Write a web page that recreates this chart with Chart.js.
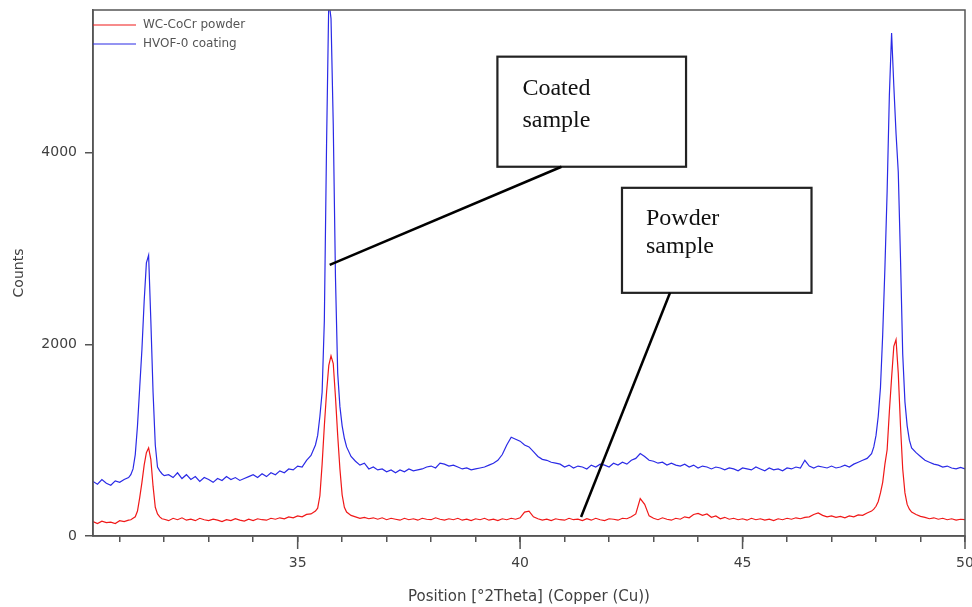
<!DOCTYPE html>
<html>
<head>
<meta charset="utf-8">
<script src="https://cdn.jsdelivr.net/npm/chart.js@4.4.1/dist/chart.umd.min.js"></script>
<style>
  html, body { margin: 0; padding: 0; background: #fff; }
  #wrap { width: 972px; height: 607px; }
</style>
</head>
<body>
<div id="wrap"><canvas id="xrd" width="972" height="607"></canvas></div>
<script>
// 2Theta positions (finer steps around the peaks)
var twoTheta = [
  30.4, 30.5, 30.6, 30.7, 30.8, 30.9, 31.0, 31.1, 31.2,
  31.25, 31.3, 31.35, 31.4, 31.45, 31.5, 31.55, 31.6, 31.65, 31.7, 31.75, 31.8, 31.85, 31.9, 31.95,
  32.0, 32.1, 32.2, 32.3, 32.4, 32.5, 32.6, 32.7, 32.8, 32.9,
  33.0, 33.1, 33.2, 33.3, 33.4, 33.5, 33.6, 33.7, 33.8, 33.9,
  34.0, 34.1, 34.2, 34.3, 34.4, 34.5, 34.6, 34.7, 34.8, 34.9,
  35.0, 35.1, 35.2, 35.3, 35.4,
  35.45, 35.5, 35.55, 35.6, 35.65, 35.7, 35.75, 35.8, 35.85, 35.9, 35.95, 36.0, 36.05,
  36.1, 36.2, 36.3, 36.4, 36.5, 36.6, 36.7, 36.8, 36.9,
  37.0, 37.1, 37.2, 37.3, 37.4, 37.5, 37.6, 37.7, 37.8, 37.9,
  38.0, 38.1, 38.2, 38.3, 38.4, 38.5, 38.6, 38.7, 38.8, 38.9,
  39.0, 39.1, 39.2, 39.3, 39.4, 39.5, 39.6, 39.7, 39.8, 39.9,
  40.0, 40.1, 40.2, 40.3, 40.4, 40.5, 40.6, 40.7, 40.8, 40.9,
  41.0, 41.1, 41.2, 41.3, 41.4, 41.5, 41.6, 41.7, 41.8, 41.9,
  42.0, 42.1, 42.2, 42.3, 42.4, 42.5, 42.6, 42.7, 42.8, 42.9,
  43.0, 43.1, 43.2, 43.3, 43.4, 43.5, 43.6, 43.7, 43.8, 43.9,
  44.0, 44.1, 44.2, 44.3, 44.4, 44.5, 44.6, 44.7, 44.8, 44.9,
  45.0, 45.1, 45.2, 45.3, 45.4, 45.5, 45.6, 45.7, 45.8, 45.9,
  46.0, 46.1, 46.2, 46.3, 46.4, 46.5, 46.6, 46.7, 46.8, 46.9,
  47.0, 47.1, 47.2, 47.3, 47.4, 47.5, 47.6, 47.7, 47.8, 47.9,
  47.95, 48.0, 48.05, 48.1, 48.15, 48.2, 48.25, 48.3, 48.35, 48.4, 48.45, 48.5, 48.55, 48.6, 48.65, 48.7, 48.75,
  48.8, 48.9, 49.0, 49.1, 49.2, 49.3, 49.4, 49.5, 49.6, 49.7, 49.8, 49.9, 50.0
];

// WC-CoCr powder (red)
var powderCounts = [
  150, 130, 155, 140, 145, 130, 160, 150, 165,
  170, 185, 200, 260, 400, 560, 740, 870, 920, 800, 520, 300, 230, 200, 180,
  175, 160, 185, 170, 190, 165, 175, 160, 185, 170,
  160, 175, 165, 150, 170, 160, 180, 165, 155, 175,
  160, 180, 170, 165, 185, 175, 190, 180, 200, 190,
  210, 200, 225, 230, 260,
  290, 420, 750, 1150, 1500, 1780, 1880, 1800, 1450, 1050, 700, 430, 300,
  250, 215, 200, 185, 195, 180, 190, 175, 190,
  170, 185, 175, 165, 185, 170, 180, 165, 185, 175,
  170, 190, 175, 165, 180, 170, 185, 165, 175, 160,
  180, 170, 185, 165, 175, 160, 180, 170, 185, 175,
  190, 250, 260, 200, 180, 165, 175, 160, 180, 170,
  165, 185, 170, 175, 160, 180, 165, 185, 170, 160,
  180, 175, 165, 185, 180, 200, 230, 390, 330, 210,
  185, 170, 190, 175, 165, 185, 175, 200, 190, 225,
  235, 215, 230, 195, 210, 180, 195, 175, 185, 170,
  180, 165, 185, 170, 180, 165, 175, 160, 180, 170,
  185, 175, 190, 180, 195, 200, 225, 240, 215, 200,
  210, 195, 205, 190, 210, 200, 220, 215, 240, 260,
  280, 310, 360, 450, 560, 750, 900, 1300, 1650, 1980, 2050, 1700, 1150, 700, 450, 330, 280,
  250, 225, 205, 195, 180, 190, 175, 185, 170, 180, 165, 175, 170
];

// HVOF-0 coating (blue)
var coatingCounts = [
  570, 540, 590, 550, 530, 575, 560, 590, 610,
  640, 700, 850, 1150, 1550, 1950, 2450, 2850, 2930, 2250, 1500, 950, 720, 680, 650,
  630, 640, 610, 660, 600, 640, 590, 620, 570, 610,
  590, 560, 600, 580, 620, 590, 610, 580, 600, 620,
  640, 610, 650, 620, 660, 640, 680, 660, 700, 690,
  730, 720, 790, 840, 950,
  1050, 1250, 1500, 2250, 4100, 5600, 5400, 4300, 2700, 1700, 1350, 1150, 1020,
  930, 830, 780, 740, 760, 700, 720, 690, 700,
  670, 690, 660, 690, 670, 700, 680, 690, 700, 720,
  730, 710, 760, 750, 730, 740, 720, 700, 710, 690,
  700, 710, 720, 740, 760, 790, 850, 950, 1030, 1010,
  990, 950, 930, 880, 830, 800, 790, 770, 760, 750,
  720, 740, 710, 730, 720, 700, 740, 720, 750, 740,
  720, 760, 740, 770, 750, 790, 810, 860, 830, 790,
  780, 760, 770, 740, 760, 740, 730, 750, 720, 740,
  710, 730, 720, 700, 720, 710, 690, 710, 700, 680,
  710, 700, 690, 720, 700, 680, 710, 690, 700, 680,
  710, 700, 720, 710, 790, 730, 710, 730, 720, 710,
  730, 710, 720, 740, 720, 750, 770, 790, 810, 860,
  930, 1050, 1250, 1550, 2100, 2800, 3600, 4600, 5250, 4700, 4200, 3800, 2900, 1900, 1400, 1150, 1000,
  920, 870, 830, 790, 770, 750, 740, 720, 730, 710, 700, 715, 700
];

var xTicks = [31, 32, 33, 34, 35, 36, 37, 38, 39, 40, 41, 42, 43, 44, 45, 46, 47, 48, 49, 50];
var yTicks = [0, 2000, 4000];

function toPoints(vals) {
    return twoTheta.map(function (x, i) { return { x: x, y: vals[i] } })
}

var axisColor = '#555'
var textColor = '#404040'
var sansFamily = 'DejaVu Sans, Verdana, sans-serif'
var labelFont = { family: sansFamily, size: 14 }

// frame, long major ticks, legend and the two callout boxes
var extras = {
    id: 'extras',
    afterDraw: function (chart) {
        var ctx = chart.ctx
        var area = chart.chartArea
        var xs = chart.scales.x
        var ys = chart.scales.y

        ctx.save()
        ctx.strokeStyle = axisColor
        ctx.lineWidth = 1.5
        ctx.strokeRect(area.left, area.top, area.right - area.left, area.bottom - area.top)

        xTicks.forEach(function (v) {
            if (v % 5 !== 0) return
            var px = xs.getPixelForValue(v)
            ctx.beginPath()
            ctx.moveTo(px, area.bottom)
            ctx.lineTo(px, area.bottom + 13)
            ctx.stroke()
        })

        // legend
        ctx.font = '12px ' + sansFamily
        ctx.textBaseline = 'middle'
        chart.data.datasets.forEach(function (ds, i) {
            var y = area.top + 15 + i * 19
            ctx.strokeStyle = ds.borderColor
            ctx.lineWidth = 1.2
            ctx.beginPath()
            ctx.moveTo(area.left, y)
            ctx.lineTo(area.left + 43, y)
            ctx.stroke()
            ctx.fillStyle = '#555'
            ctx.fillText(ds.label, area.left + 50, y)
        })

        // callouts
        var boxes = [
            { x0: 39.49, x1: 43.73, y0: 5003, y1: 3854, lines: ['Coated', 'sample'], dx: 25, base: [38, 70],
              from: [40.93, 3854], to: [35.72, 2830] },
            { x0: 42.29, x1: 46.55, y0: 3634, y1: 2538, lines: ['Powder', 'sample'], dx: 24, base: [37, 65],
              from: [43.37, 2538], to: [41.37, 198] }
        ]
        ctx.textBaseline = 'alphabetic'
        ctx.font = '24px Liberation Serif, Times New Roman, serif'
        boxes.forEach(function (b) {
            var l = xs.getPixelForValue(b.x0), r = xs.getPixelForValue(b.x1)
            var t = ys.getPixelForValue(b.y0), bt = ys.getPixelForValue(b.y1)
            ctx.fillStyle = '#fff'
            ctx.fillRect(l, t, r - l, bt - t)
            ctx.strokeStyle = '#222'
            ctx.lineWidth = 2.2
            ctx.strokeRect(l, t, r - l, bt - t)
            ctx.fillStyle = '#111'
            b.lines.forEach(function (s, i) { ctx.fillText(s, l + b.dx, t + b.base[i]) })
            ctx.lineWidth = 2.5
            ctx.strokeStyle = '#000'
            ctx.beginPath()
            ctx.moveTo(xs.getPixelForValue(b.from[0]), ys.getPixelForValue(b.from[1]))
            ctx.lineTo(xs.getPixelForValue(b.to[0]), ys.getPixelForValue(b.to[1]))
            ctx.stroke()
        })
        ctx.restore()
    }
}

var chart = new Chart(document.getElementById('xrd'), {
    type: 'line',
    data: {
        datasets: [{
            label: 'WC-CoCr powder',
            data: toPoints(powderCounts),
            borderColor: '#f01818',
            borderWidth: 1.2,
            pointRadius: 0,
            tension: 0
        }, {
            label: 'HVOF-0 coating',
            data: toPoints(coatingCounts),
            borderColor: '#2a2ae6',
            borderWidth: 1.2,
            pointRadius: 0,
            tension: 0
        }]
    },
    options: {
        responsive: false,
        animation: false,
        layout: { padding: { top: 10, right: 7, left: 0, bottom: 0 } },
        plugins: {
            legend: { display: false },
            tooltip: { enabled: false }
        },
        scales: {
            x: {
                type: 'linear',
                min: 30.4,
                max: 50,
                afterBuildTicks: function (axis) { axis.ticks = xTicks.map(function (v) { return { value: v } }) },
                afterFit: function (axis) {
                    axis.height = 71
                    axis.paddingLeft = 0
                    axis.paddingRight = 0
                },
                grid: { drawOnChartArea: false, color: axisColor, tickLength: 6, lineWidth: 1.5 },
                border: { color: axisColor, width: 1.5 },
                ticks: {
                    padding: 13,
                    maxRotation: 0,
                    autoSkip: false,
                    color: textColor,
                    font: labelFont,
                    callback: function (v) { return v % 5 === 0 ? String(v) : '' }
                },
                title: {
                    display: true,
                    text: 'Position [°2Theta] (Copper (Cu))',
                    color: textColor,
                    font: { family: sansFamily, size: 15 },
                    padding: { top: 0, bottom: 1 }
                }
            },
            y: {
                min: 0,
                max: 5490,
                afterBuildTicks: function (axis) { axis.ticks = yTicks.map(function (v) { return { value: v } }) },
                afterFit: function (axis) {
                    axis.width = 93
                    axis.paddingTop = 0
                    axis.paddingBottom = 0
                },
                grid: { drawOnChartArea: false, color: axisColor, tickLength: 8, lineWidth: 1.5 },
                border: { color: axisColor, width: 1.5 },
                ticks: {
                    padding: 8,
                    color: textColor,
                    font: labelFont,
                    callback: function (v) { return String(v) }
                },
                title: {
                    display: true,
                    text: 'Counts',
                    color: textColor,
                    font: { family: sansFamily, size: 14 },
                    padding: { top: 11, bottom: 0 }
                }
            }
        }
    },
    plugins: [extras]
})
</script>
</body>
</html>
